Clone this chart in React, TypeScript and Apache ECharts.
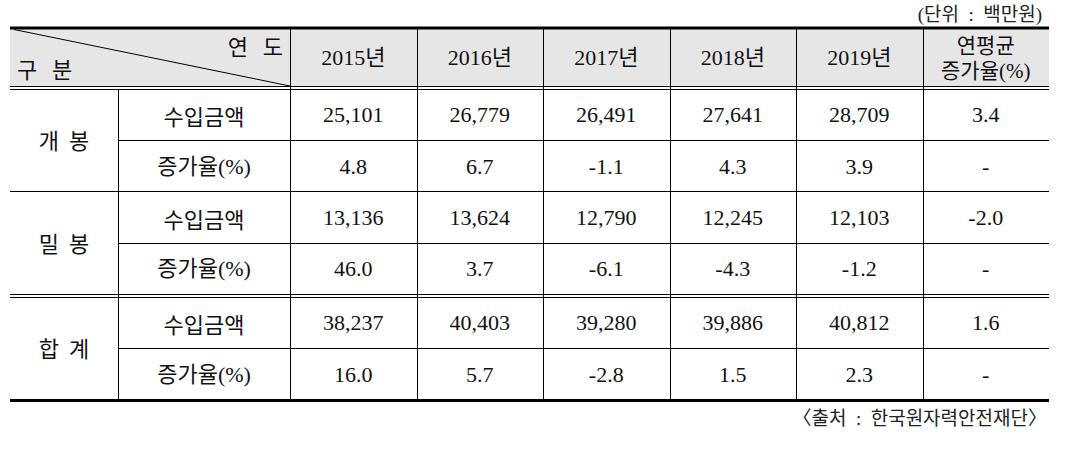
import React, { useEffect, useRef } from "react";
import * as echarts from "echarts";

const years = ["2015년", "2016년", "2017년", "2018년", "2019년"];
const avgHeader = ["연평균", "증가율(%)"];
const groups = ["개  봉", "밀  봉", "합  계"];
const rowKinds = ["수입금액", "증가율(%)"];

const gaebongAmount = [25101, 26779, 26491, 27641, 28709];
const gaebongGrowth = [4.8, 6.7, -1.1, 4.3, 3.9];
const gaebongAvg = 3.4;
const milbongAmount = [13136, 13624, 12790, 12245, 12103];
const milbongGrowth = [46.0, 3.7, -6.1, -4.3, -1.2];
const milbongAvg = -2.0;
const totalAmount = [38237, 40403, 39280, 39886, 40812];
const totalGrowth = [16.0, 5.7, -2.8, 1.5, 2.3];
const totalAvg = 1.6;

const unitText = "(단위  :  백만원)";
const sourceText = "〈출처  :  한국원자력안전재단〉";

const FONT = "'Liberation Serif', 'Noto Sans CJK KR', serif";
const KFONT = "'Noto Sans CJK KR', 'Liberation Serif', sans-serif";

function fmtAmount(v: number) {
  return v.toLocaleString("en-US");
}
function fmtPct(v: number) {
  return v.toFixed(1);
}

export default function App() {
  const ref = useRef<HTMLDivElement>(null);
  useEffect(() => {
    if (!ref.current) return;
    const chart = echarts.init(ref.current, undefined, { renderer: "svg" });

    const left = 10;
    const right = 1049;
    const colX = [10, 118, 290, 416.5, 543, 669.5, 796, 922.5, 1049];
    const top = 28;
    const headBottom = 86;
    const rowBounds = [
      [89, 140],
      [140, 192],
      [192, 243],
      [243, 294],
      [297, 348],
      [348, 400],
    ];

    const els: any[] = [];
    const line = (x1: number, y1: number, x2: number, y2: number, w = 1) =>
      els.push({
        type: "line",
        shape: { x1, y1, x2, y2 },
        style: { stroke: "#000", lineWidth: w },
        silent: true,
      });
    const text = (
      t: string,
      x: number,
      y: number,
      align: string,
      size = 22,
      family = FONT,
      fill = "#111"
    ) =>
      els.push({
        type: "text",
        x,
        y,
        style: {
          text: t,
          fontSize: size,
          fontFamily: family,
          fill,
          align,
          verticalAlign: "middle",
          textAlign: align,
          textVerticalAlign: "middle",
        },
        silent: true,
      });

    els.push({
      type: "rect",
      shape: { x: left, y: top, width: right - left, height: headBottom - top },
      style: { fill: "#e6e6e6" },
      silent: true,
    });

    line(left, top, right, top, 3);
    line(left, 86.5, right, 86.5);
    line(left, 89.5, right, 89.5);
    line(colX[1], 140.5, right, 140.5);
    line(left, 191.5, right, 191.5);
    line(colX[1], 243.5, right, 243.5);
    line(left, 294.5, right, 294.5);
    line(left, 297.5, right, 297.5);
    line(colX[1], 348.5, right, 348.5);
    line(left, 400.5, right, 400.5, 3);

    line(colX[1] + 0.5, 89, colX[1] + 0.5, 399);
    for (let i = 2; i < colX.length - 1; i++) {
      const x = Math.round(colX[i]) + 0.5;
      line(x, 29, x, 399);
    }
    line(14, 29.5, 290, 86);

    text("연   도", 283, 45, "right", 22, KFONT);
    text("구   분", 17, 68, "left", 22, KFONT);
    years.forEach((y, i) => {
      text(y, (colX[i + 2] + colX[i + 3]) / 2, 57.5, "center");
    });
    const avgCx = (colX[7] + colX[8]) / 2;
    text(avgHeader[0], avgCx, 44, "center", 21, KFONT);
    text(avgHeader[1], avgCx, 70.5, "center", 21);

    const amounts = [gaebongAmount, milbongAmount, totalAmount];
    const growths = [gaebongGrowth, milbongGrowth, totalGrowth];
    const avgs = [gaebongAvg, milbongAvg, totalAvg];

    groups.forEach((g, gi) => {
      const r0 = rowBounds[gi * 2];
      const r1 = rowBounds[gi * 2 + 1];
      text(g, (colX[0] + colX[1]) / 2, r0[1] - 1, "center", 22, KFONT);
      const c0 = (r0[0] + r0[1]) / 2;
      const c1 = (r1[0] + r1[1]) / 2;
      text(rowKinds[0], (colX[1] + colX[2]) / 2, c0, "center", 22, KFONT);
      text(rowKinds[1], (colX[1] + colX[2]) / 2, c1, "center");
      amounts[gi].forEach((v, i) => {
        text(fmtAmount(v), (colX[i + 2] + colX[i + 3]) / 2, c0, "center");
      });
      growths[gi].forEach((v, i) => {
        text(fmtPct(v), (colX[i + 2] + colX[i + 3]) / 2, c1, "center");
      });
      text(fmtPct(avgs[gi]), avgCx, c0, "center");
      text("-", avgCx, c1, "center");
    });

    text(unitText, 1042, 14, "right", 19, FONT, "#222");
    text(sourceText, 1047, 418, "right", 19, FONT, "#222");

    chart.setOption({
      animation: false,
      graphic: { elements: els },
    });
    return () => chart.dispose();
  }, []);

  return (
    <div
      ref={ref}
      style={{ position: "fixed", left: 0, top: 0, width: 1065, height: 449, background: "#fff" }}
    />
  );
}
